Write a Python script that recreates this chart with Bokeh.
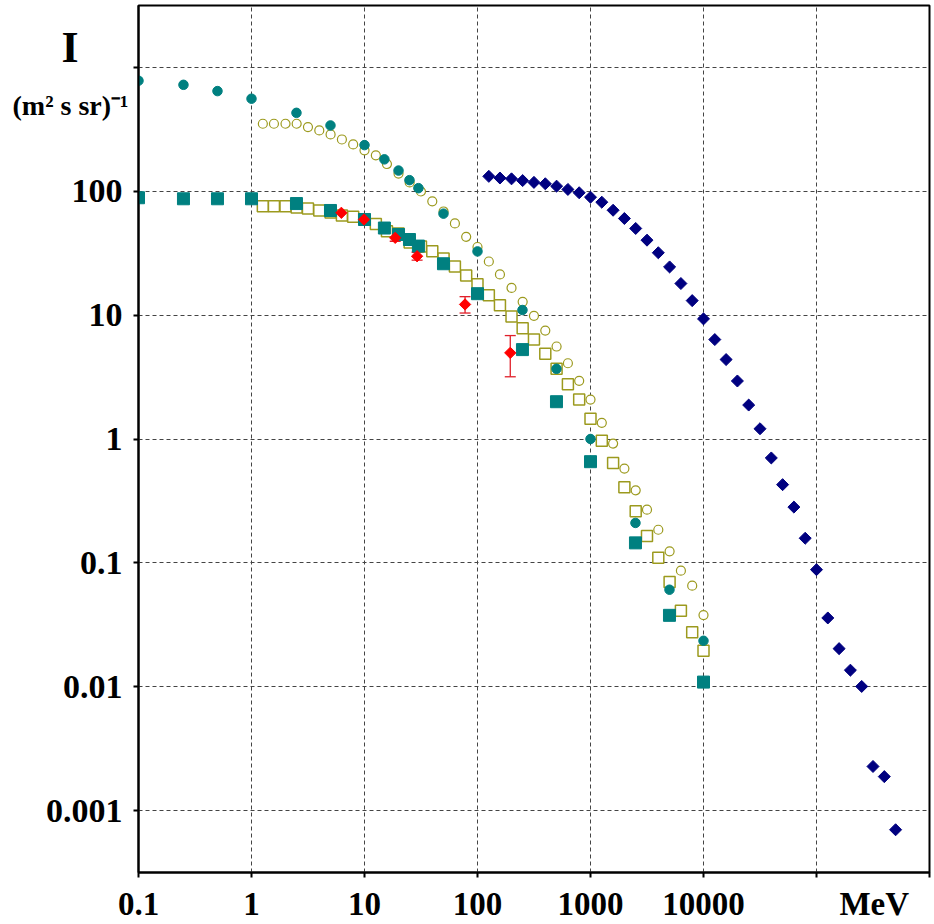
import numpy as np
from bokeh.plotting import figure
from bokeh.models import (ColumnDataSource, FixedTicker, CustomJSTickFormatter,
                          LogAxis, Whisker, TeeHead, Range1d)
from bokeh.embed import file_html
from bokeh.resources import INLINE

# ---------------- data ----------------
# teal filled circles / teal filled squares share energies
teal_E = [0.1, 0.25, 0.5, 1, 2.5, 5, 10, 15, 20, 25, 30, 50, 100, 250, 500,
          1000, 2500, 5000, 10000]
teal_circ_I = [781, 724, 644, 559, 430, 340, 236, 181, 147, 123, 106, 66, 32.7,
               11.0, 3.69, 1.0, 0.21, 0.0607, 0.0235]
teal_sq_I = [88.7, 87, 87, 87, 79.6, 70, 59.2, 50.5, 44.8, 40.8, 36.1, 26, 14.9,
             5.27, 2.0, 0.656, 0.145, 0.0377, 0.0109]

# olive open circles / open squares: 10^0.1 ... 10^4.0
olive_E = [1.26, 1.58, 2.0, 2.51, 3.16, 3.98, 5.01, 6.31, 7.94, 10, 12.6, 15.8,
           20, 25.1, 31.6, 39.8, 50.1, 63.1, 79.4, 100, 126, 158, 200, 251, 316,
           398, 501, 631, 794, 1000, 1259, 1585, 1995, 2512, 3162, 3981, 5012,
           6310, 7943, 10000]
olive_circ_I = [351, 351, 351, 351, 330, 310, 288, 262, 239, 214, 195, 166, 139,
                118, 99.6, 83, 68.7, 55, 42.9, 35.5, 27.1, 21.3, 16.6, 12.8,
                9.87, 7.51, 5.58, 4.09, 2.95, 2.08, 1.35, 0.918, 0.577, 0.385,
                0.269, 0.185, 0.124, 0.0865, 0.0654, 0.0379]
olive_sq_I = [75.8, 75.8, 75.8, 74, 72.6, 70, 67.5, 63.8, 62.3, 59.2, 54.4, 47.6,
              45.6, 38.6, 35.8, 32.8, 28.7, 24.7, 20.9, 17.8, 14.5, 12.0, 9.75,
              7.84, 6.35, 4.88, 3.69, 2.77, 2.08, 1.46, 0.97, 0.641, 0.407,
              0.261, 0.165, 0.110, 0.0701, 0.0411, 0.0275, 0.0195]

# red diamonds with error bars
red_E = [6.24, 9.9, 18.7, 29.2, 77.6, 195]
red_I = [67, 59.2, 42.1, 29.9, 12.2, 4.96]
err_E = [18.7, 29.2, 77.6, 195]
err_lo = [39.5, 27.8, 10.4, 3.18]
err_hi = [44.8, 32.2, 14.1, 6.84]

# navy diamonds: 10^2.1 ... 10^5.7
navy_E = [126, 158, 200, 251, 316, 398, 501, 631, 794, 1000, 1259, 1585, 1995,
          2512, 3162, 3981, 5012, 6310, 7943, 10000, 12589, 15849, 19953, 25119,
          31623, 39811, 50119, 63096, 79433, 100000, 125893, 158489, 199526,
          251189, 316228, 398107, 501187]
navy_I = [132, 128, 126, 122, 118, 115, 110, 103.5, 97.3, 89.6, 81.6, 70.3, 60.3,
          50.1, 40.3, 31.9, 24.5, 18.0, 13.1, 9.33, 6.35, 4.38, 2.94, 1.88, 1.21,
          0.703, 0.428, 0.282, 0.158, 0.0881, 0.0359, 0.0203, 0.0136, 0.01005,
          0.00227, 0.00188, 0.0007]

NB = "\u00a0"
x_tick_vals = [0.1, 1, 10, 100, 1000, 10000, 100000, 1000000]
# the unit "MeV" sits half a decade right of the 10^5 tick (leading no-break spaces shift it)
x_tick_labels = ["0.1", "1", "10", "100", "1000", "10000", NB * 14 + "MeV", ""]
y_tick_vals = [0.001, 0.01, 0.1, 1, 10, 100, 1000]
y_tick_labels = ["0.001", "0.01", "0.1", "1", "10", "100", ""]
y_title = NB * 2 + "I"
y_unit = "(m\u00b2 s sr)\u207b\u00b9"

# ---------------- layout geometry ----------------
W, H = 934, 924
L, R, T, B = 138, 5, 5, 49
X0, X1 = -1.0, 6.0      # log10 x range
Y0, Y1 = -3.5, 3.5      # log10 y range
FW, FH = W - L - R, H - T - B


def y_at(py):
    return 10 ** (Y1 - (py - T) / FH * (Y1 - Y0))


p = figure(width=W, height=H, x_axis_type="log", y_axis_type="log",
           x_range=Range1d(10 ** X0, 10 ** X1), y_range=Range1d(10 ** Y0, 10 ** Y1),
           output_backend="svg", toolbar_location=None,
           min_border_left=L, min_border_right=R, min_border_top=T,
           min_border_bottom=B)
p.background_fill_color = "white"
p.border_fill_color = "white"
p.outline_line_color = "black"
p.outline_line_width = 2

fmt_code = """
let best = 0, d = Infinity;
for (let i = 0; i < vals.length; i++) {
  const e = Math.abs(Math.log10(vals[i]) - Math.log10(tick));
  if (e < d) { d = e; best = i; }
}
return labels[best];
"""


def fmt(vals, labels):
    return CustomJSTickFormatter(args=dict(vals=vals, labels=labels), code=fmt_code)


p.xaxis.ticker = FixedTicker(ticks=x_tick_vals, minor_ticks=[])
p.yaxis.ticker = FixedTicker(ticks=y_tick_vals, minor_ticks=[])
p.xaxis.formatter = fmt(x_tick_vals, x_tick_labels)
p.yaxis.formatter = fmt(y_tick_vals, y_tick_labels)
for ax in (p.xaxis, p.yaxis):
    ax.axis_line_color = "black"
    ax.axis_line_width = 2
    ax.major_tick_line_color = "black"
    ax.major_tick_line_width = 2
    ax.major_tick_in = 0
    ax.major_tick_out = 5
    ax.minor_tick_line_color = None
    ax.major_label_text_font = "Liberation Serif"
    ax.major_label_text_font_style = "bold"
    ax.major_label_text_color = "black"
p.xaxis.major_label_text_font_size = "33px"
p.yaxis.major_label_text_font_size = "34px"
p.xaxis.major_label_standoff = 8
p.yaxis.major_label_standoff = 11


# extra label-only axes on the left for the quantity and its unit
def label_axis(vals, labels, size, standoff):
    ax = LogAxis(ticker=FixedTicker(ticks=vals, minor_ticks=[]),
                 formatter=fmt(vals, labels),
                 axis_line_color=None, major_tick_line_color=None,
                 minor_tick_line_color=None, major_tick_in=0, major_tick_out=0,
                 major_label_standoff=standoff,
                 major_label_text_font="Liberation Serif",
                 major_label_text_font_style="bold",
                 major_label_text_font_size=size,
                 major_label_text_color="black")
    p.add_layout(ax, "left")
    return ax


label_axis([y_at(47)], [y_title], "44px", -36)
label_axis([y_at(105)], [y_unit], "28px", -92)

for g in (p.xgrid, p.ygrid):
    g.grid_line_color = "#444444"
    g.grid_line_dash = "4 3"
    g.grid_line_width = 1

OLIVE = "#9c9a1e"
TEAL = "#008080"
NAVY = "#000080"
RED = "#ff0000"

p.scatter(olive_E, olive_circ_I, marker="circle", size=9, fill_color="white",
          line_color=OLIVE, line_width=1.2)
p.scatter(olive_E, olive_sq_I, marker="square", size=11, fill_color="white",
          line_color=OLIVE, line_width=1.5)
p.scatter(teal_E, teal_sq_I, marker="square", size=12, fill_color=TEAL,
          line_color=TEAL)
p.scatter(teal_E, teal_circ_I, marker="circle", size=9.5, fill_color=TEAL,
          line_color=TEAL)

esrc = ColumnDataSource(dict(x=err_E, lower=err_lo, upper=err_hi))
wh = Whisker(source=esrc, base="x", lower="lower", upper="upper",
             dimension="height", line_color="#e0202a", line_width=1.3,
             upper_head=TeeHead(size=11, line_color="#e0202a", line_width=1.3),
             lower_head=TeeHead(size=11, line_color="#e0202a", line_width=1.3))
p.add_layout(wh)
p.scatter(red_E, red_I, marker="square", angle=np.pi / 4, size=8, fill_color=RED,
          line_color=RED)
p.scatter(navy_E, navy_I, marker="square", angle=np.pi / 4, size=8.5,
          fill_color=NAVY, line_color=NAVY)

open("out.html", "w").write(file_html(p, INLINE))
